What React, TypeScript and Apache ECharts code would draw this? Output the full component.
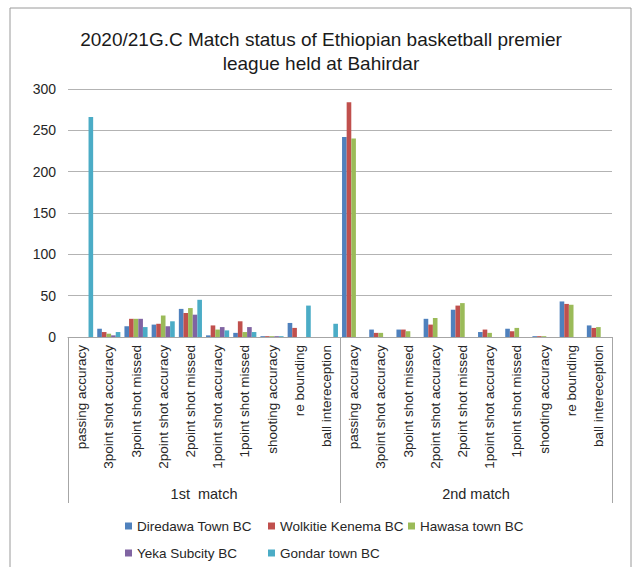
import React, { useEffect, useRef } from "react";
import * as echarts from "echarts";

const statNames = [
  "passing accuracy",
  "3point shot accuracy",
  "3point shot missed",
  "2point shot accuracy",
  "2point shot missed",
  "1point shot accuracy",
  "1point shot missed",
  "shooting accuracy",
  "re bounding",
  "ball intereception",
];
const categories = [...statNames, ...statNames];
const matchGroups = ["1st  match", "2nd match"];
const yTicks = [0, 50, 100, 150, 200, 250, 300];

const teamNames = [
  "Diredawa Town BC",
  "Wolkitie Kenema BC",
  "Hawasa town BC",
  "Yeka Subcity BC",
  "Gondar town BC",
];
const teamColors = ["#4F81BD", "#C0504D", "#9BBB59", "#8064A2", "#4BACC6"];

const diredawa = [0, 10, 13, 15, 34, 2, 5, 1, 17, 0, 242, 9, 9, 22, 33, 6, 10, 1, 43, 14];
const wolkitie = [0, 6, 22, 16, 29, 14, 19, 1, 11, 0, 284, 5, 9, 15, 38, 9, 7, 1, 40, 11];
const hawasa = [0, 4, 22, 26, 35, 9, 6, 1, 0, 0, 240, 5, 7, 23, 41, 5, 11, 1, 39, 12];
const yeka = [0, 2, 22, 13, 27, 12, 12, 1, 0, 0, 0, 0, 0, 0, 0, 0, 0, 0, 0, 0];
const gondar = [266, 6, 12, 19, 45, 8, 6, 1, 38, 16, 0, 0, 0, 0, 0, 0, 0, 0, 0, 0];
const seriesValues = [diredawa, wolkitie, hawasa, yeka, gondar];

const FONT = "Liberation Sans";
// legend slot positions (layout only)
const legendSlots = [
  { left: 120, top: 514 },
  { left: 263, top: 514 },
  { left: 403, top: 514 },
  { left: 120, top: 541 },
  { left: 263, top: 541 },
];

export default function App() {
  const ref = useRef<HTMLDivElement>(null);
  useEffect(() => {
    if (!ref.current) return;
    const chart = echarts.init(ref.current, undefined, { renderer: "svg" });
    chart.setOption({
      animation: false,
      backgroundColor: "#ffffff",
      color: teamColors,
      title: {
        text: "2020/21G.C Match status of Ethiopian basketball premier\nleague held at Bahirdar",
        left: "center",
        top: 22,
        textStyle: {
          fontFamily: FONT,
          fontSize: 19,
          fontWeight: "normal",
          color: "#1a1a1a",
          lineHeight: 24,
        },
      },
      graphic: [
        {
          type: "rect",
          shape: { x: 10, y: 8, width: 621, height: 620 },
          style: { fill: "none", stroke: "#9a9a9a", lineWidth: 1 },
          silent: true,
        },
      ],
      legend: teamNames.map((name, i) => ({
        data: [name],
        left: legendSlots[i].left,
        top: legendSlots[i].top,
        itemWidth: 7,
        itemHeight: 7,
        icon: "rect",
        textStyle: { fontFamily: FONT, fontSize: 13.5, color: "#262626" },
      })),
      grid: { left: 68, right: 30, top: 89, bottom: 230 },
      xAxis: [
        {
          type: "category",
          data: categories,
          axisLine: { show: true, lineStyle: { color: "#a6a6a6" } },
          axisTick: { show: false },
          axisLabel: {
            rotate: 90,
            interval: 0,
            margin: 8,
            fontFamily: FONT,
            fontSize: 13.5,
            color: "#262626",
          },
        },
        {
          type: "category",
          data: matchGroups,
          position: "bottom",
          axisLine: { show: false },
          axisTick: { show: true, length: 166, lineStyle: { color: "#a6a6a6" } },
          axisLabel: {
            margin: 149,
            fontFamily: FONT,
            fontSize: 14.5,
            color: "#262626",
          },
        },
      ],
      yAxis: {
        type: "value",
        min: yTicks[0],
        max: yTicks[yTicks.length - 1],
        interval: 50,
        axisLine: { show: false },
        axisTick: { show: false },
        axisLabel: { margin: 12, fontFamily: FONT, fontSize: 14, color: "#262626" },
        splitLine: { lineStyle: { color: "#b3b3b3", width: 1.2 } },
      },
      series: teamNames.map((name, i) => ({
        name,
        type: "bar",
        xAxisIndex: 0,
        data: seriesValues[i],
        barGap: "0%",
        barCategoryGap: "15%",
        itemStyle: { color: teamColors[i] },
      })),
    });
    return () => chart.dispose();
  }, []);
  return (
    <div
      ref={ref}
      style={{ position: "absolute", left: 0, top: 0, width: 642, height: 567 }}
    />
  );
}
